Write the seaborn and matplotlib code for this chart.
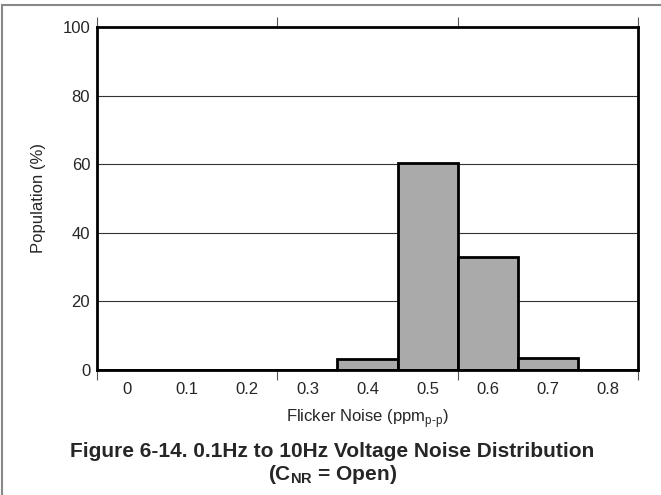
import numpy as np
import pandas as pd
import seaborn as sbn
import matplotlib
matplotlib.use("Agg")
import matplotlib.pyplot as plt
from matplotlib.patches import Rectangle

# histogram bins (ppm p-p) and population share (%)
noise_bins = ["0", "0.1", "0.2", "0.3", "0.4", "0.5", "0.6", "0.7", "0.8"]
population = [0, 0, 0, 0, 3.0, 60.5, 33.0, 3.3, 0]
y_ticks = [0, 20, 40, 60, 80, 100]

sbn.set_style("white")
plt.rcParams["font.family"] = ["Liberation Sans", "DejaVu Sans"]
plt.rcParams["mathtext.fontset"] = "custom"
plt.rcParams["mathtext.rm"] = "Liberation Sans"
plt.rcParams["mathtext.bf"] = "Liberation Sans:bold"

df = pd.DataFrame({"bin": noise_bins, "pop": population})

fig = plt.figure(figsize=(6.61, 4.95), dpi=100)
ax = fig.add_axes([0.147, 0.253, 0.818, 0.692])

for y in [20, 40, 60, 80]:
    ax.axhline(y, color="#333333", lw=0.8, zorder=0)

sbn.barplot(data=df, x="bin", y="pop", color="#aaaaaa", saturation=1,
            edgecolor="black", linewidth=2, width=1.0, ax=ax, zorder=2)

ax.set_xlim(-0.5, 8.5)
ax.set_ylim(0, 100)
ax.set_yticks(y_ticks)
ax.tick_params(axis="y", length=0, labelsize=12, pad=5)
# labels sit at bin centres, tick marks every 1.5 bins
ax.tick_params(axis="x", which="major", length=0, labelsize=12, pad=9)
ax.set_xticks(np.arange(-0.5, 9, 1.5), minor=True)
ax.tick_params(axis="x", which="minor", length=7, width=0.8, color="#555555",
               direction="out", top=True, bottom=True)

for s in ax.spines.values():
    s.set_linewidth(2)
    s.set_color("black")

ax.set_xlabel("Flicker Noise (ppm$_{\\mathrm{p\\text{-}p}}$)", fontsize=12, labelpad=7)
ax.set_ylabel("Population (%)", fontsize=12, labelpad=12)

fig.text(0.503, 0.087, "Figure 6-14. 0.1Hz to 10Hz Voltage Noise Distribution",
         ha="center", va="center", fontsize=15, fontweight="bold")
fig.text(0.503, 0.042, "(C$_{\\mathbf{NR}}$ = Open)",
         ha="center", va="center", fontsize=15, fontweight="bold")

# grey page frame
fig.patches.append(Rectangle((0.003, -0.05), 1.1, 1.04, transform=fig.transFigure,
                             fill=False, edgecolor="#888888", lw=1.5))

fig.savefig("out.png", dpi=100)
